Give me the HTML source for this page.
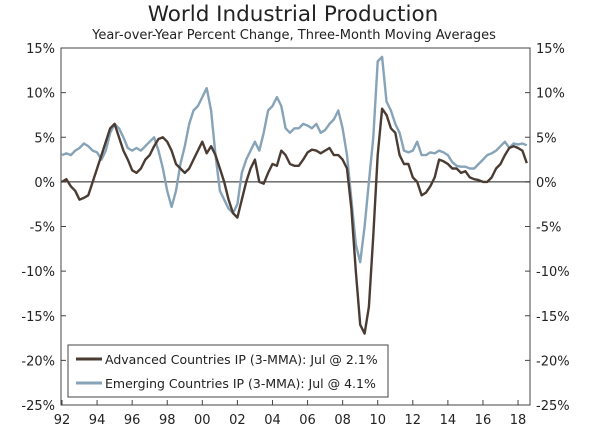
<!DOCTYPE html>
<html><head><meta charset="utf-8"><style>
body{margin:0;background:#fff;}
svg text{font-family:"DejaVu Sans","Liberation Sans",sans-serif;fill:#222;}
</style></head><body>
<svg id="c" width="600" height="432"></svg>
<script>
const startYear = 1992;
const stepYears = 0.25;
const advanced = [0,0.3,-0.5,-1,-2,-1.8,-1.5,0,1.5,3,4.5,6,6.5,5,3.5,2.5,1.3,1,1.5,2.5,3,4,4.8,5,4.5,3.5,2,1.5,1,1.5,2.5,3.5,4.5,3.2,4,3,1.5,0,-2,-3.5,-4,-2,0,1.5,2.5,0,-0.2,1,2,1.8,3.5,3,2,1.8,1.8,2.5,3.3,3.6,3.5,3.2,3.5,3.8,3,3,2.5,1.5,-3,-10,-16,-17,-14,-6,3,8.2,7.5,6,5.5,3,2,2,0.5,0,-1.5,-1.2,-0.5,0.5,2.5,2.3,2,1.5,1.5,1,1.2,0.5,0.3,0.2,0,0,0.5,1.5,2,3,3.8,4,3.8,3.5,2.1];
const emerging = [3,3.2,3,3.5,3.8,4.3,4,3.5,3.3,2.5,3.5,5.5,6.5,6,5,3.8,3.5,3.8,3.5,4,4.5,5,3.5,1.5,-1,-2.8,-1,2,4,6.5,8,8.5,9.5,10.5,8,3,-1,-2,-3,-3.5,-2.5,1,2.5,3.5,4.5,3.5,5.5,8,8.5,9.5,8.5,6,5.5,6,6,6.5,6.3,6,6.5,5.5,5.8,6.5,7,8,6,3,-2,-7,-9,-5,0,5,13.5,14,9,8,6.5,5.5,3.5,3.3,3.5,4.5,3,3,3.3,3.2,3.5,3.3,3,2.2,1.8,1.7,1.7,1.5,1.5,2,2.5,3,3.2,3.5,4,4.5,3.8,4.3,4.2,4.3,4.1];
const yTicks = [15,10,5,0,-5,-10,-15,-20,-25];
const xTickYears = [1992,1994,1996,1998,2000,2002,2004,2006,2008,2010,2012,2014,2016,2018];
const xTickLabels = ["92","94","96","98","00","02","04","06","08","10","12","14","16","18"];

const L=61,R=530,T=48,B=405;
const X=yr=>62+(yr-1992)*17.54;
const Y=v=>T+(15-v)*(B-T)/40;
const svg=document.getElementById('c');
const NS='http://www.w3.org/2000/svg';
function mk(tag,attrs,parent){const e=document.createElementNS(NS,tag);for(const k in attrs)e.setAttribute(k,attrs[k]);(parent||svg).appendChild(e);return e;}

let t=mk('text',{x:293,y:21,'text-anchor':'middle','font-size':21.5});t.textContent='World Industrial Production';


t=mk('text',{x:294,y:39,'text-anchor':'middle','font-size':13});t.textContent='Year-over-Year Percent Change, Three-Month Moving Averages';



let fr=mk('rect',{x:L,y:T,width:R-L,height:B-T,fill:'none',stroke:'#444','stroke-width':1});



yTicks.forEach(v=>{
  const y=Y(v);
  mk('line',{x1:L,x2:L+5,y1:y,y2:y,stroke:'#444'});
  mk('line',{x1:R-5,x2:R,y1:y,y2:y,stroke:'#444'});
  let a=mk('text',{x:L-6,y:y+5,'text-anchor':'end','font-size':13});a.textContent=v+'%';
  
  
  let b=mk('text',{x:R+6,y:y+5,'text-anchor':'start','font-size':13});b.textContent=v+'%';
  
  
});
xTickYears.forEach((yr,i)=>{
  const x=X(yr);
  mk('line',{x1:x,x2:x,y1:B,y2:B-5,stroke:'#444'});
  let a=mk('text',{x:x,y:424,'text-anchor':'middle','font-size':13});a.textContent=xTickLabels[i];
  
  
});
let z=mk('line',{x1:L,x2:R,y1:Y(0),y2:Y(0),stroke:'#222','stroke-width':1});



function series(arr,color,name){
  const d=arr.map((v,i)=>(i?'L':'M')+X(startYear+i*stepYears).toFixed(1)+','+Y(v).toFixed(1)).join('');
  const p=mk('path',{d:d,fill:'none',stroke:color,'stroke-width':2.4,'stroke-linejoin':'round'});
  
  
}
series(emerging,'#87a3b8','emerging-line');
series(advanced,'#4a3c33','advanced-line');

const lg=mk('g',{});


mk('rect',{x:68,y:345,width:320,height:52,fill:'#fff',stroke:'#444'},lg);
mk('line',{x1:76,x2:102,y1:359,y2:359,stroke:'#4a3c33','stroke-width':3},lg);
mk('line',{x1:76,x2:102,y1:383,y2:383,stroke:'#87a3b8','stroke-width':3},lg);
let l1=mk('text',{x:105,y:364,'font-size':12.5},lg);l1.textContent='Advanced Countries IP (3-MMA): Jul @ 2.1%';


let l2=mk('text',{x:105,y:388,'font-size':12.5},lg);l2.textContent='Emerging Countries IP (3-MMA): Jul @ 4.1%';


</script>
</body></html>
